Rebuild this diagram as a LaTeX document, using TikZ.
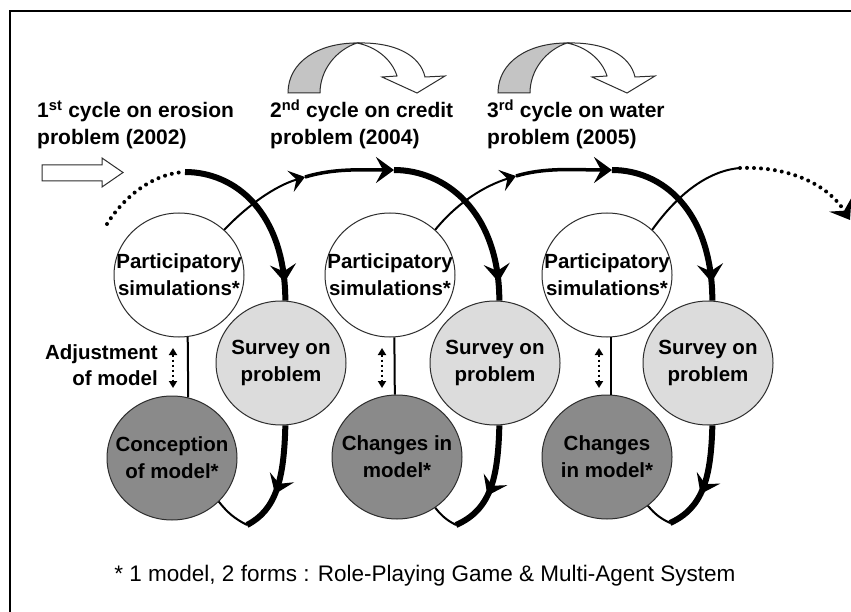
\documentclass[tikz,border=0pt]{standalone}
\usepackage{fontspec}
\setmainfont{Liberation Sans}
\usetikzlibrary{arrows.meta,shapes.geometric,decorations.markings}
\definecolor{surveygrey}{RGB}{220,220,220}
\definecolor{modelgrey}{RGB}{138,138,138}
\definecolor{uturngrey}{RGB}{196,196,196}
\definecolor{rimgrey}{RGB}{45,45,45}
\tikzset{
 bigtip/.tip={Stealth[length=18pt,width=26pt,inset=7pt]},
 midtip/.tip={Stealth[length=15pt,width=22pt,inset=6pt]},
 smalltip/.tip={Triangle[length=7pt,width=8pt]},
}
\begin{document}
\begin{tikzpicture}[x=1pt,y=-1pt,
 bubble/.style={ellipse,draw=rimgrey,line width=1pt,inner sep=0pt,minimum width=130pt,minimum height=124pt},
 partic/.style={bubble,fill=white},
 survey/.style={bubble,fill=surveygrey},
 modelb/.style={bubble,fill=modelgrey},
 inlabel/.style={font=\bfseries\fontsize{20.5}{27}\selectfont,align=center,inner sep=0pt},
 toplabel/.style={font=\bfseries\fontsize{21}{27}\selectfont,align=left,inner sep=0pt,anchor=base west},
 thinline/.style={line width=2pt},
 midline/.style={line width=3.5pt},
 thickline/.style={line width=6pt},
 dotline/.style={line width=4pt,dash pattern=on 0pt off 7pt,line cap=round},
 adjarrow/.style={line width=2.5pt,dash pattern=on 2.5pt off 2.5pt,arrows={smalltip-smalltip}},
 arrowat/.style 2 args={postaction={decorate},decoration={markings,mark=at position #1 with {\arrow{#2}}}},
 outline/.style={draw=rimgrey,line width=1pt},
]
\useasboundingbox (0,0) rectangle (851,612);
\fill[white] (0,0) rectangle (851,612);
\draw[line width=2.5pt] (10,614) -- (10,11) -- (853,11);

% U-turn arrows above cycles 2 and 3
\foreach \dx in {0,210}{
 \begin{scope}[shift={(\dx,0)}]
  \filldraw[fill=uturngrey,outline] (288,93) .. controls (288,62) and (318,43) .. (357,43) .. controls (336,50) and (320,70) .. (320,93) -- cycle;
  \filldraw[fill=white,outline] (357,43) .. controls (395,42) and (420,55) .. (425,77) -- (445,76) -- (417,93) -- (382,77) -- (397,76) .. controls (392,60) and (377,47) .. (357,43) -- cycle;
 \end{scope}
}

% hollow entry arrow
\filldraw[fill=white,outline] (42,165) -- (102,165) -- (102,158) -- (123,172.5) -- (102,187) -- (102,181) -- (42,181) -- cycle;

% cycle labels (anchor = baseline of the last line)
\node[toplabel] (L1) at (37,145) {1\textsuperscript{st} cycle on erosion\\problem (2002)};
\node[toplabel] (L2) at (270,145) {2\textsuperscript{nd} cycle on credit\\problem (2004)};
\node[toplabel] (L3) at (487,145) {3\textsuperscript{rd} cycle on water\\problem (2005)};

% bubbles
\node[partic,label={[inlabel]center:Participatory\\simulations*}] (P1) at (179,275) {};
\node[survey,label={[inlabel]center:Survey on\\problem}] (S1) at (281,363) {};
\node[modelb,label={[inlabel]center:Conception\\of model*}] (C1) at (172,458) {};
\node[partic,label={[inlabel]center:Participatory\\simulations*}] (P2) at (390,275) {};
\node[survey,label={[inlabel]center:Survey on\\problem}] (S2) at (495,363) {};
\node[modelb,label={[inlabel]center:Changes in\\model*}] (C2) at (397,457) {};
\node[partic,label={[inlabel]center:Participatory\\simulations*}] (P3) at (607,275) {};
\node[survey,label={[inlabel]center:Survey on\\problem}] (S3) at (708,363) {};
\node[modelb,label={[inlabel]center:Changes\\in model*}] (C3) at (607,457) {};

% path coordinates
\coordinate (D0) at (107,224);
\coordinate (T1) at (185,172);
\coordinate (A2) at (305,177);
\coordinate (T2) at (394,170);
\coordinate (A3) at (516,176);
\coordinate (T3) at (612,170);
\coordinate (E1) at (740,168);
\coordinate (E2) at (850,220);
\coordinate (B1) at (247,525);
\coordinate (B2) at (456,525);
\coordinate (B3) at (670,523);

% lead-in dotted arc
\draw[dotline] (D0) .. controls (125,195) and (155,173) .. (T1);

% cycle 1
\draw[thickline,arrowat={0.9}{bigtip}] (T1) .. controls (235,172) and (285,212) .. (S1.86);
\draw[thickline,arrowat={0.62}{bigtip}] (S1.-86) .. controls (284,480) and (276,510) .. (B1);
\draw[thinline] (B1) to[bend left=12] (C1.-43);
\draw[thinline] (C1.75) -- (P1.-82);

% cycle 2
\draw[thinline,-{midtip}] (P1.45) .. controls (248,205) and (275,186) .. (A2);
\draw[midline,-{bigtip}] (A2) .. controls (335,168) and (362,170) .. (T2);
\draw[thickline,arrowat={0.9}{bigtip}] (T2) .. controls (444,170) and (499,210) .. (S2.86);
\draw[thickline,arrowat={0.62}{bigtip}] (S2.-86) .. controls (498,480) and (490,510) .. (B2);
\draw[thinline] (B2) to[bend left=12] (C2.-53);
\draw[thinline] (C2.92) -- (P2.-86);

% cycle 3
\draw[thinline,-{midtip}] (P2.45) .. controls (457,203) and (484,186) .. (A3);
\draw[midline,-{bigtip}] (A3) .. controls (546,167) and (577,170) .. (T3);
\draw[thickline,arrowat={0.9}{bigtip}] (T3) .. controls (662,170) and (712,210) .. (S3.86);
\draw[thickline,arrowat={0.62}{bigtip}] (S3.-86) .. controls (711,478) and (703,508) .. (B3);
\draw[thinline] (B3) to[bend left=12] (C3.-50);
\draw[thinline] (C3.86) -- (P3.-86);

% exit
\draw[thinline] (P3.45) .. controls (675,198) and (705,171) .. (E1);
\draw[dotline,-{bigtip}] (E1) .. controls (790,166) and (828,185) .. (E2);

% adjustment arrows
\coordinate (U1) at (173,348); \coordinate (V1) at (173,388);
\coordinate (U2) at (382,348); \coordinate (V2) at (382,388);
\coordinate (U3) at (599,348); \coordinate (V3) at (599,388);
\draw[adjarrow] (U1) -- (V1);
\draw[adjarrow] (U2) -- (V2);
\draw[adjarrow] (U3) -- (V3);
\node[font=\bfseries\fontsize{20.5}{26}\selectfont,align=right,inner sep=0pt,anchor=base east] (adj) at (158,385) {Adjustment\\of model};

% footnote
\node[font=\fontsize{22.5}{27}\selectfont,inner sep=0pt,anchor=base] (note) at (425,581) {* 1 model, 2 forms : Role-Playing Game \& Multi-Agent System};
\end{tikzpicture}
\end{document}
